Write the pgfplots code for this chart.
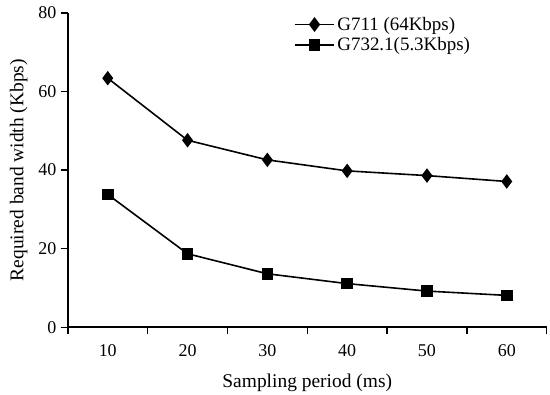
\documentclass[border=0pt]{standalone}
\usepackage{fontspec}
\setmainfont{Liberation Serif}
\usepackage{pgfplots}
\pgfplotsset{compat=1.18}
\begin{document}
\begin{tikzpicture}[x=1pt,y=1pt]
\begin{axis}[
  at={(68pt,65pt)}, anchor=south west,
  scale only axis, width=480pt, height=315pt,
  xmin=-0.5, xmax=5.5, ymin=0, ymax=80,
  axis x line*=bottom, axis y line*=left,
  axis line style={line width=1.6pt,-},
  tick align=outside,
  major tick length=7pt,
  every tick/.style={line width=1.4pt,black},
  xtick={0,...,5}, xticklabels={10,20,30,40,50,60},
  x tick style={draw=none},
  extra x ticks={-0.5,0.5,1.5,2.5,3.5,4.5,5.5},
  extra x tick labels={},
  extra x tick style={x tick style={draw=black,line width=1.4pt}},
  ytick={0,20,40,60,80},
  /pgf/number format/assume math mode=true,
  tick label style={font=\fontsize{18}{20}\selectfont},
  xticklabel style={yshift=-7pt},
  yticklabel style={xshift=-1pt},
  label style={font=\fontsize{19.5}{22}\selectfont},
  xlabel={Sampling period (ms)},
  ylabel={Required band width (Kbps)},
  xlabel style={yshift=4pt},
  ylabel style={yshift=4pt},
  legend style={draw=none, fill=none, at={(0.465,1.0)}, anchor=north west,
    font=\fontsize{19}{21}\selectfont, row sep=2pt,
    legend cell align=left,
    /tikz/every even column/.append style={column sep=10pt}},
  legend image code/.code={
    \draw[line width=1.8pt,mark repeat=2,mark phase=2]
      plot coordinates {(0pt,0pt) (20pt,0pt) (40pt,0pt)};},
  clip=false,
]
\addplot[black, line width=1.6pt, mark=diamond*, mark size=6pt] coordinates {
 (0,63.4) (1,47.6) (2,42.6) (3,39.8) (4,38.6) (5,37.1)};
\addlegendentry{G711 (64Kbps)}
\addplot[black, line width=1.6pt, mark=square*, mark size=5pt] coordinates {
 (0,33.8) (1,18.7) (2,13.6) (3,11.1) (4,9.2) (5,8.1)};
\addlegendentry{G732.1(5.3Kbps)}
\end{axis}
\path[use as bounding box] (0,0) rectangle (550,393);
\end{tikzpicture}
\end{document}
